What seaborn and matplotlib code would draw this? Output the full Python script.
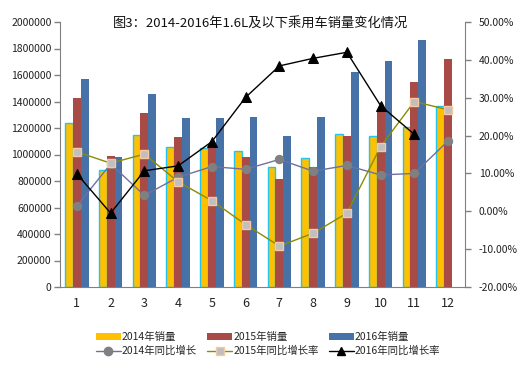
import numpy as np
import pandas as pd
import seaborn as sns
import matplotlib.pyplot as plt
from matplotlib.patches import Patch
from matplotlib.lines import Line2D
from matplotlib.ticker import FuncFormatter

sns.set_style("white")
plt.rcParams['font.family'] = ['Noto Sans CJK SC', 'DejaVu Sans']
plt.rcParams['axes.unicode_minus'] = False

months = [str(m) for m in range(1, 13)]
sales_2014 = [1235000, 880000, 1147000, 1056000, 1049000, 1024000, 903000, 971000, 1152000, 1140000, 1207000, 1366000]
sales_2015 = [1426000, 988000, 1313000, 1134000, 1072000, 981000, 815000, 906000, 1140000, 1328000, 1549000, 1721000]
sales_2016 = [1570000, 981000, 1457000, 1278000, 1278000, 1283000, 1140000, 1283000, 1625000, 1706000, 1864000, np.nan]
growth_2014 = [1.4, 12.5, 4.2, 9.0, 11.8, 11.1, 13.7, 10.6, 12.1, 9.6, 10.0, 18.6]
growth_2015 = [15.7, 12.7, 15.1, 7.8, 2.8, -3.5, -9.2, -5.8, -0.5, 17.1, 29.0, 26.8]
growth_2016 = [9.9, -0.5, 10.7, 12.0, 18.4, 30.1, 38.4, 40.4, 42.0, 27.9, 20.3, np.nan]

bar_names = ['2014年销量', '2015年销量', '2016年销量']
line_names = ['2014年同比增长', '2015年同比增长率', '2016年同比增长率']
bar_colors = ['#FFC000', '#A84A45', '#4672A8']

df = pd.DataFrame({
    'month': months * 3,
    'sales': sales_2014 + sales_2015 + sales_2016,
    'year': [bar_names[0]] * 12 + [bar_names[1]] * 12 + [bar_names[2]] * 12,
})

fig = plt.figure(figsize=(5.27, 3.73), dpi=100)
ax = fig.add_axes([60 / 527, 86 / 373, 405 / 527, 265 / 373])

sns.barplot(data=df, x='month', y='sales', hue='year', order=months,
            hue_order=bar_names, palette=dict(zip(bar_names, bar_colors)),
            width=0.69, saturation=1, legend=False, linewidth=0, ax=ax)
for p in ax.containers[0]:
    p.set_edgecolor('#22C4F0')
    p.set_linewidth(1)

ax.set_ylim(0, 2000000)
ax.set_xlim(-0.5, 11.5)
ax.set_yticks(np.arange(0, 2000001, 200000))
ax.yaxis.set_major_formatter(FuncFormatter(lambda v, p: f"{int(v)}"))
ax.set_xlabel('')
ax.set_ylabel('')
ax.set_xticks(np.arange(-0.5, 12, 1), minor=True)
ax.tick_params(axis='x', which='major', length=0, labelsize=9, pad=7, colors='#222222')
ax.tick_params(axis='x', which='minor', length=5, color='#808080', width=1, direction='out')
ax.tick_params(axis='y', length=4, color='#808080', width=1, direction='out',
               labelsize=7.5, pad=2, labelcolor='#222222', left=True)
for s in ['left', 'bottom']:
    ax.spines[s].set_color('#808080')
ax.spines['top'].set_visible(False)
ax.spines['right'].set_visible(False)

ax2 = ax.twinx()
x = np.arange(12)
sns.lineplot(x=x, y=growth_2014, ax=ax2, color='#7070A0', lw=1, marker='o',
             markersize=6, markerfacecolor='#808080', markeredgecolor='#808080')
sns.lineplot(x=x, y=growth_2015, ax=ax2, color='#8C8C00', lw=1, marker='s',
             markersize=6, markerfacecolor='#BFBFBF', markeredgecolor='#F8C8A0', markeredgewidth=1)
sns.lineplot(x=x, y=growth_2016, ax=ax2, color='black', lw=1, marker='^',
             markersize=7, markerfacecolor='black', markeredgecolor='black')
ax2.set_ylim(-20, 50)
ax2.set_yticks(np.arange(-20, 51, 10))
ax2.yaxis.set_major_formatter(FuncFormatter(lambda v, p: f"{v:.2f}%"))
ax2.tick_params(axis='y', length=4, color='#808080', width=1, direction='out',
                labelsize=7.5, pad=6, labelcolor='#222222', right=True)
ax2.spines['right'].set_color('#808080')
for s in ['top', 'left', 'bottom']:
    ax2.spines[s].set_visible(False)
ax2.set_xlim(-0.5, 11.5)

fig.text(261 / 527, 1 - 23 / 373, '图3：2014-2016年1.6L及以下乘用车销量变化情况',
         ha='center', va='center', fontsize=9.5, color='#111111')

bar_h = [Patch(facecolor=c, edgecolor='none') for c in bar_colors]
line_h = [
    Line2D([], [], color='#7070A0', lw=1, marker='o', markersize=6,
           markerfacecolor='#808080', markeredgecolor='#808080'),
    Line2D([], [], color='#8C8C00', lw=1, marker='s', markersize=6,
           markerfacecolor='#BFBFBF', markeredgecolor='#F8C8A0'),
    Line2D([], [], color='black', lw=1, marker='^', markersize=6,
           markerfacecolor='black'),
]
handles, labels = [], []
for i in range(3):
    handles += [bar_h[i], line_h[i]]
    labels += [bar_names[i], line_names[i]]
fig.legend(handles, labels, ncol=3, loc='center', bbox_to_anchor=(268 / 527, 1 - 344 / 373),
           frameon=False, fontsize=7.5, handlelength=2.4, handleheight=0.6,
           handletextpad=0.1, columnspacing=1.0, labelspacing=0.35)

fig.savefig('out.png', dpi=100)
